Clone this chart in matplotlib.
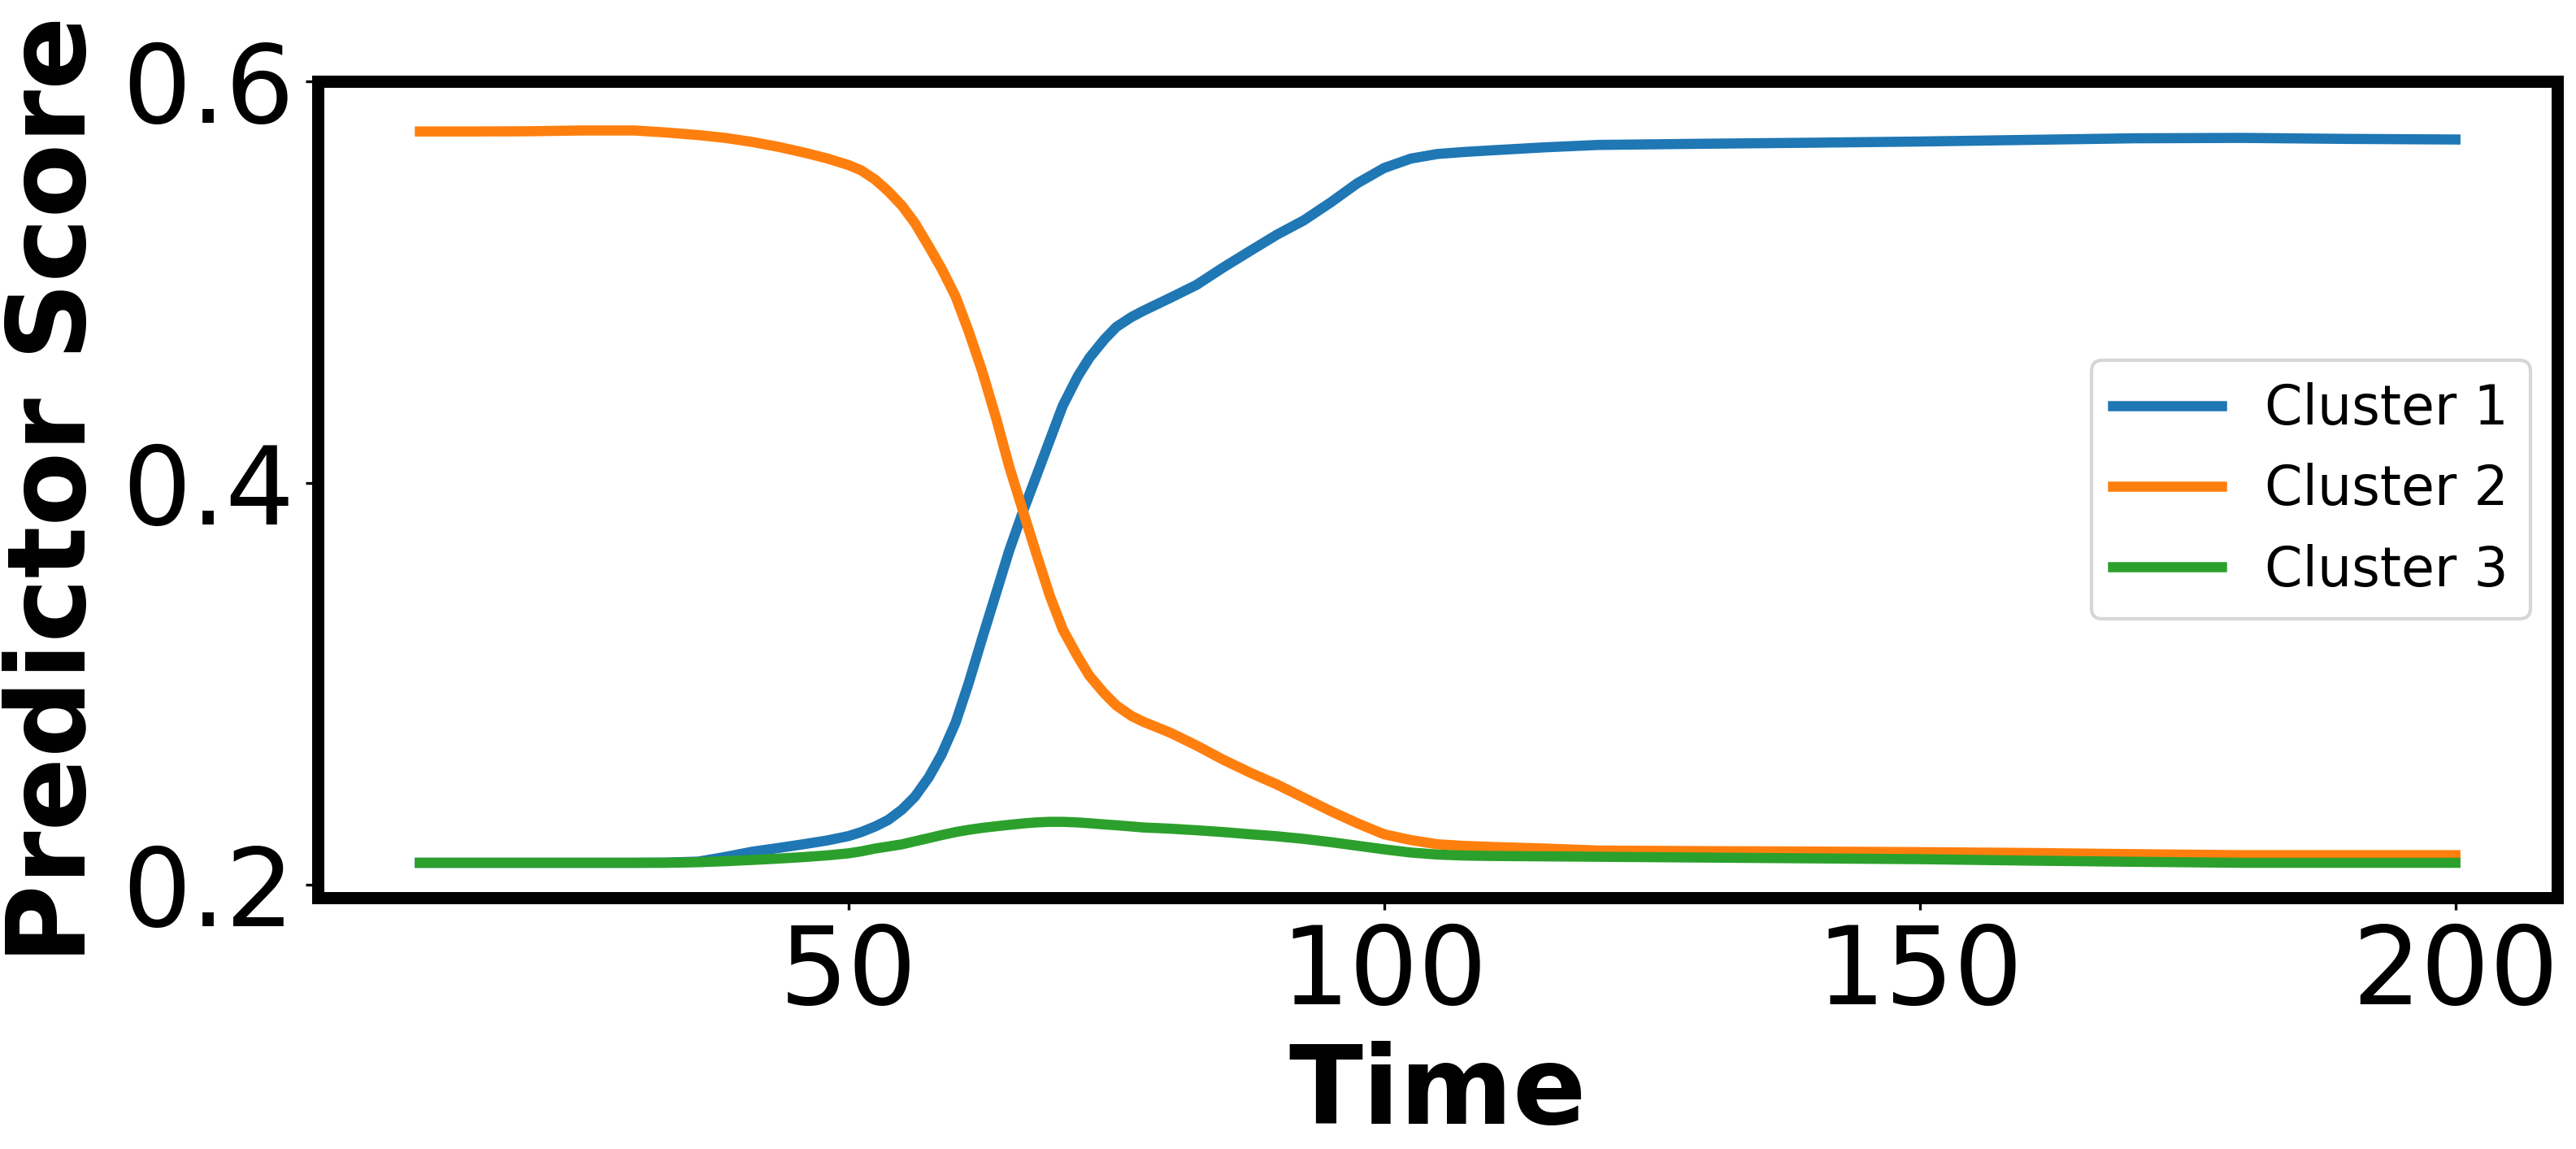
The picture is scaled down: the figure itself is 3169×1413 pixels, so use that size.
import matplotlib
matplotlib.use("Agg")
import matplotlib.pyplot as plt

# time points (denser where the curves bend)
time = [10, 15, 20, 25, 30, 33, 36, 38.5, 41, 43.5, 46, 48,
        50, 51.2, 52.5, 53.7, 55, 56.2, 57.5, 58.7, 60,
        61.2, 62.5, 63.8, 65, 66.3, 67.5, 68.8, 70, 71.4, 72.5, 73.9, 75, 76.4, 77.5,
        80, 82.5, 85, 87.5, 90, 92.5, 95, 97.5, 100, 102.5, 105, 107.5,
        110, 115, 120, 130, 140, 150, 160, 170, 180, 190, 200]

cluster1 = [0.2109, 0.2109, 0.2109, 0.2109, 0.2109, 0.2110, 0.2115, 0.2138, 0.2164, 0.2183, 0.2203, 0.2220,
            0.2242, 0.2262, 0.2290, 0.2322, 0.2374, 0.2438, 0.2535, 0.2649, 0.2807,
            0.3000, 0.3230, 0.3455, 0.3663, 0.3860, 0.4030, 0.4215, 0.4385, 0.4532, 0.4625, 0.4717, 0.4778, 0.4827, 0.4858,
            0.4922, 0.4988, 0.5075, 0.5157, 0.5238, 0.5309, 0.5398, 0.5494, 0.5570, 0.5617, 0.5640, 0.5650,
            0.5658, 0.5673, 0.5685, 0.5691, 0.5696, 0.5702, 0.5710, 0.5718, 0.5720, 0.5715, 0.5712]

cluster2 = [0.5752, 0.5752, 0.5753, 0.5757, 0.5757, 0.5747, 0.5734, 0.5720, 0.5700, 0.5675, 0.5645, 0.5618,
            0.5585, 0.5558, 0.5512, 0.5455, 0.5382, 0.5296, 0.5180, 0.5068, 0.4930,
            0.4760, 0.4555, 0.4321, 0.4084, 0.3860, 0.3655, 0.3439, 0.3272, 0.3136, 0.3040, 0.2952, 0.2893, 0.2841, 0.2812,
            0.2758, 0.2693, 0.2622, 0.2558, 0.2499, 0.2433, 0.2367, 0.2306, 0.2251, 0.2222, 0.2201, 0.2193,
            0.2188, 0.2180, 0.2170, 0.2167, 0.2165, 0.2162, 0.2158, 0.2152, 0.2147, 0.2147, 0.2147]

cluster3 = [0.2109, 0.2109, 0.2109, 0.2109, 0.2109, 0.2109, 0.2112, 0.2117, 0.2123, 0.2130, 0.2138, 0.2146,
            0.2156, 0.2166, 0.2180, 0.2190, 0.2201, 0.2216, 0.2232, 0.2247, 0.2262,
            0.2273, 0.2283, 0.2291, 0.2298, 0.2305, 0.2310, 0.2313, 0.2313, 0.2310, 0.2306, 0.2300, 0.2296, 0.2290, 0.2285,
            0.2279, 0.2271, 0.2262, 0.2251, 0.2241, 0.2228, 0.2212, 0.2194, 0.2176, 0.2160, 0.2150, 0.2145,
            0.2143, 0.2141, 0.2139, 0.2135, 0.2131, 0.2127, 0.2120, 0.2114, 0.2109, 0.2109, 0.2109]

labels = ["Cluster 1", "Cluster 2", "Cluster 3"]

fig = plt.figure(figsize=(3169 / 300, 1413 / 300), dpi=300)
ax = fig.add_axes([0.1235, 0.2187, 0.9927 - 0.1235, 0.9289 - 0.2187])

ax.plot(time, cluster1, lw=3, label=labels[0])
ax.plot(time, cluster2, lw=3, label=labels[1])
ax.plot(time, cluster3, lw=3, label=labels[2])

ax.set_ylim(0.1935, 0.5991)
ax.set_yticks([0.2, 0.4, 0.6])
ax.set_xticks([50, 100, 150, 200])
ax.tick_params(labelsize=32)
for s in ax.spines.values():
    s.set_linewidth(3.6)

ax.set_xlabel("Time", fontsize=32, fontweight="bold")
ax.set_ylabel("Predictor Score", fontsize=32, fontweight="bold")
ax.legend(loc="center right", fontsize=16)

fig.savefig("out.png", dpi=300)
